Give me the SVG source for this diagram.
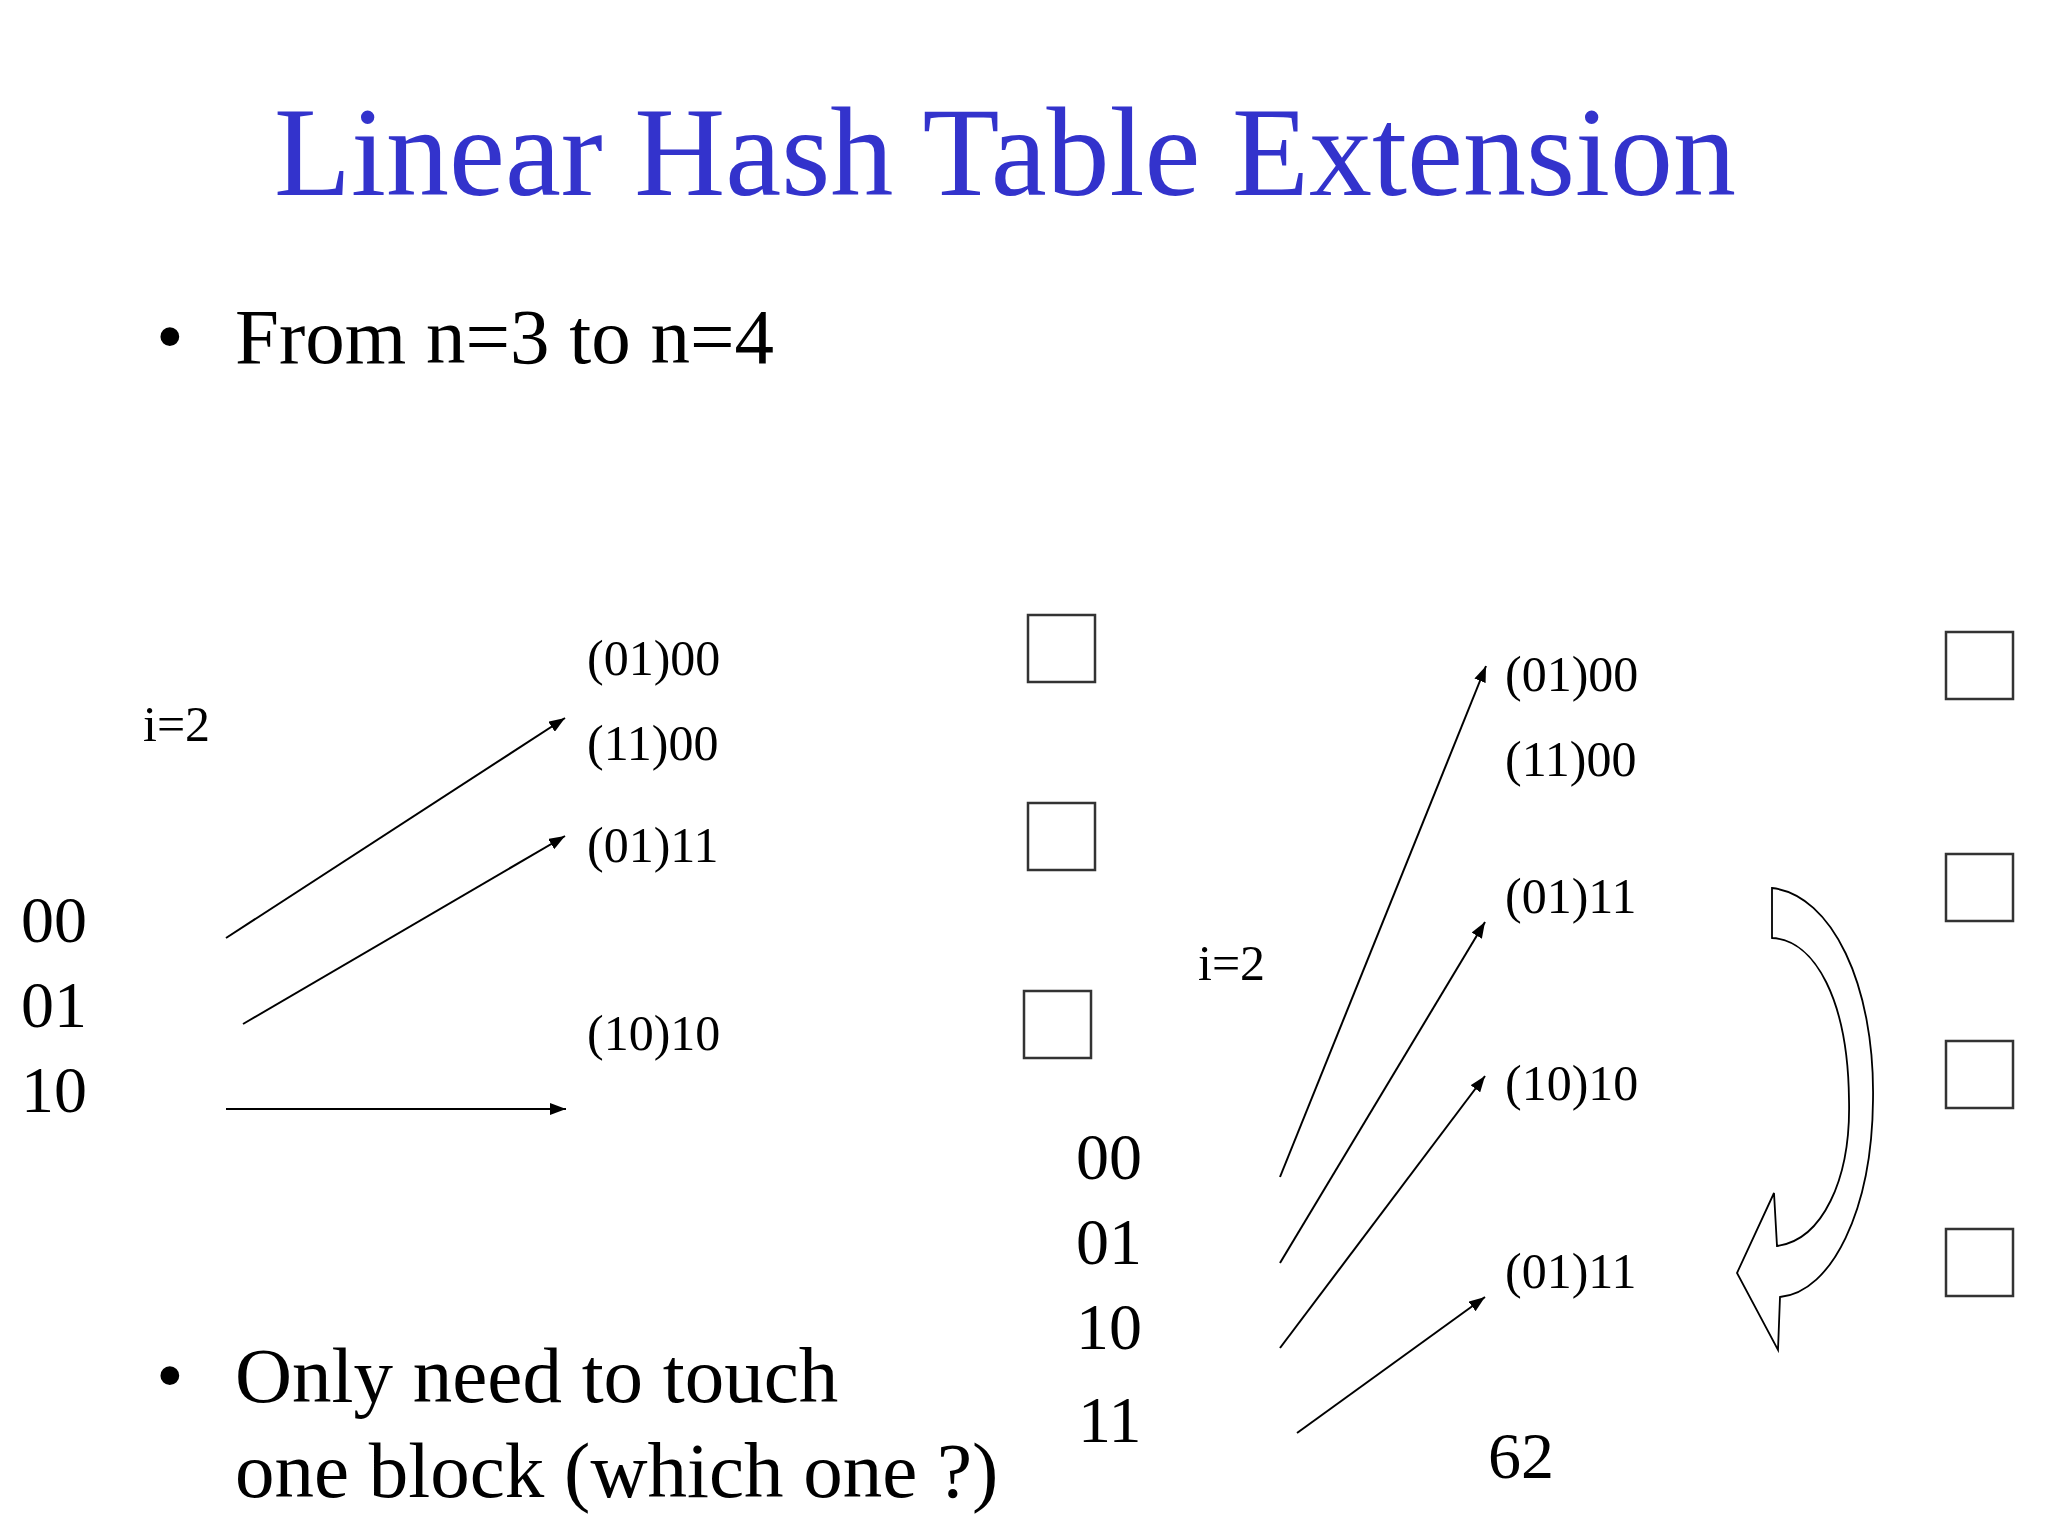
<svg xmlns="http://www.w3.org/2000/svg" width="2048" height="1536" viewBox="0 0 2048 1536">
<defs>
<style>
text{font-family:"Liberation Serif","Times New Roman",serif;fill:#000}
.title{font-size:126px;fill:#3333cc}
.bul{font-size:79px}
.lab{font-size:50px}
.key{font-size:66px}
.box{fill:#fff;stroke:#333;stroke-width:2.5}
.arr{stroke:#000;stroke-width:2;fill:none;marker-end:url(#ah)}
</style>
<marker id="ah" markerUnits="userSpaceOnUse" markerWidth="16" markerHeight="12" refX="16" refY="6" orient="auto">
<path d="M0,0 L16,6 L0,12 z" fill="#000"/>
</marker>
</defs>
<rect width="2048" height="1536" fill="#fff"/>
<g id="title"><text class="title" x="274" y="195">Linear Hash Table Extension</text></g>
<g id="bullet1"><text class="bul" x="156" y="363">•</text><text class="bul" x="235" y="363">From n=3 to n=4</text></g>
<g id="bullet2"><text class="bul" x="156" y="1402">•</text><text class="bul" x="235" y="1402">Only need to touch</text><text class="bul" x="235" y="1497">one block (which one ?)</text></g>

<g id="left">
<g id="left-i"><text class="lab" x="143" y="741">i=2</text></g>
<g id="left-keys"><text class="key" x="21" y="942">00</text><text class="key" x="21" y="1027">01</text><text class="key" x="21" y="1112">10</text></g>
<g id="left-b1"><text class="lab" x="587" y="675">(01)00</text><text class="lab" x="587" y="760">(11)00</text><rect class="box" x="1028" y="615" width="67" height="67"/></g>
<g id="left-b2"><text class="lab" x="587" y="862">(01)11</text><rect class="box" x="1028" y="803" width="67" height="67"/></g>
<g id="left-b3"><text class="lab" x="587" y="1050">(10)10</text><rect class="box" x="1024" y="991" width="67" height="67"/></g>
</g>

<g id="right">
<g id="right-i"><text class="lab" x="1198" y="980">i=2</text></g>
<g id="right-keys"><text class="key" x="1076" y="1179">00</text><text class="key" x="1076" y="1264">01</text><text class="key" x="1076" y="1349">10</text><text class="key" x="1078" y="1442">11</text></g>
<g id="right-b1"><text class="lab" x="1505" y="691">(01)00</text><text class="lab" x="1505" y="776">(11)00</text><rect class="box" x="1946" y="632" width="67" height="67"/></g>
<g id="right-b2"><text class="lab" x="1505" y="913">(01)11</text><rect class="box" x="1946" y="854" width="67" height="67"/></g>
<g id="right-b3"><text class="lab" x="1505" y="1100">(10)10</text><rect class="box" x="1946" y="1041" width="67" height="67"/></g>
<g id="right-b4"><text class="lab" x="1505" y="1288">(01)11</text><rect class="box" x="1946" y="1229" width="67" height="67"/></g>
<g id="page"><text class="key" x="1488" y="1478">62</text></g>
</g>

<g id="connectors">
<line class="arr" x1="226" y1="938" x2="565" y2="718"/>
<line class="arr" x1="243" y1="1024" x2="565" y2="836"/>
<line class="arr" x1="226" y1="1109" x2="566" y2="1109"/>
<line class="arr" x1="1280" y1="1177" x2="1486" y2="666" stroke-width="1.6"/>
<line class="arr" x1="1280" y1="1263" x2="1485" y2="922" stroke-width="1.6"/>
<line class="arr" x1="1280" y1="1348" x2="1485" y2="1076" stroke-width="1.6"/>
<line class="arr" x1="1297" y1="1433" x2="1485" y2="1297" stroke-width="1.6"/>
<path id="curved-arrow" d="M1772,888 C1832,895 1875,985 1873,1100 C1872,1210 1832,1292 1780,1297 L1778,1350 L1737,1273 L1774,1193 L1777,1246 C1822,1240 1851,1180 1849,1100 C1848,1000 1815,940 1772,938 Z" fill="#fff" stroke="#000" stroke-width="1.8" stroke-linejoin="miter"/>
</g>
</svg>
